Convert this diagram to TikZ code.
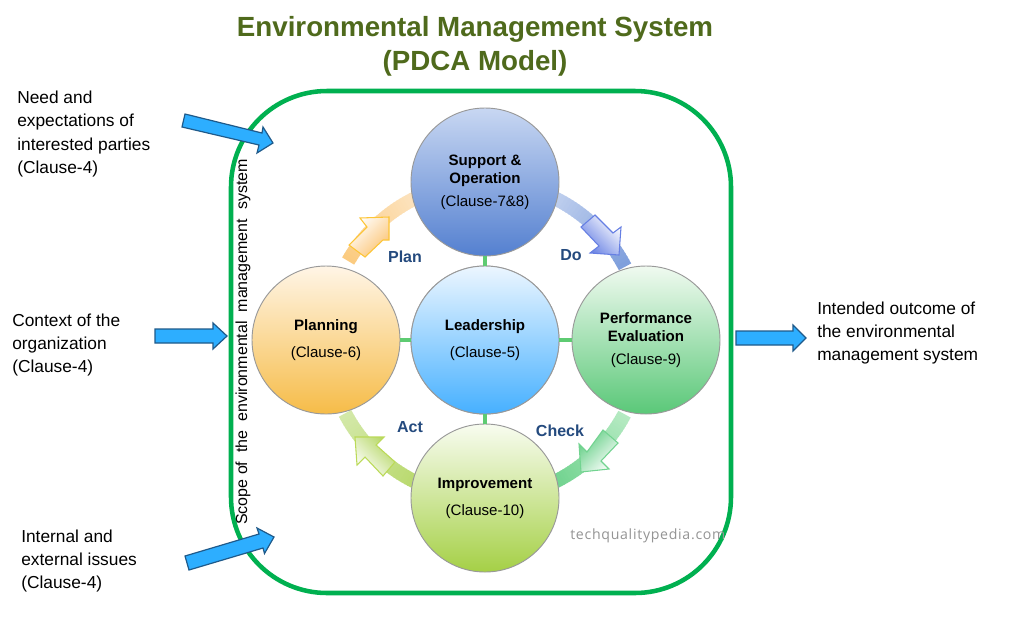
\documentclass[tikz,border=0pt]{standalone}
\usepackage{fontspec}
\setmainfont{Liberation Sans}
\newfontfamily\wmfont{Open Sans}
\usetikzlibrary{calc}
\definecolor{titleolive}{HTML}{4F6A1C}
\definecolor{framegreen}{HTML}{00B050}
\definecolor{arrowblue}{HTML}{2DAEFF}
\definecolor{arrowedge}{HTML}{1F5A8A}
\definecolor{pdcablue}{HTML}{244A7E}
\definecolor{linkgreen}{HTML}{5ECB72}
\definecolor{planA}{HTML}{FBCB80}\definecolor{planB}{HTML}{FDEEDC}
\definecolor{doA}{HTML}{DCE5F6}\definecolor{doB}{HTML}{7F9FDC}
\definecolor{chkA}{HTML}{B5EAC2}\definecolor{chkB}{HTML}{62CE84}
\definecolor{actA}{HTML}{B4D662}\definecolor{actB}{HTML}{D3E8A8}
\tikzset{
  disc/.style={circle,draw=black!40,line width=0.7pt,minimum size=111pt,inner sep=0pt,align=center,
     font=\fontsize{11.3}{13.3}\selectfont},
  sidetext/.style={anchor=west,align=left,inner sep=0pt,font=\fontsize{13}{17.5}\selectfont},
  pdca/.style={text=pdcablue,inner sep=0pt,font=\fontsize{12}{14}\selectfont\bfseries},
  bluearrow/.style={fill=arrowblue,draw=arrowedge,line width=0.9pt,line join=miter},
  link/.style={draw=linkgreen,line width=2.4pt},
}
\newcommand{\ringarc}[4]{% from angle, to angle, colour A, colour B
  \foreach \i in {0,...,39}{
    \pgfmathsetmacro{\aa}{#1+(#2-#1)*\i/40}
    \pgfmathsetmacro{\ab}{#1+(#2-#1)*(\i+1.3)/40}
    \pgfmathsetmacro{\pc}{100-\i*100/39}
    \draw[line width=10.5pt,draw=#3!\pc!#4] ({485+158*cos(\aa)},{340-158*sin(\aa)}) -- ({485+158*cos(\ab)},{340-158*sin(\ab)});
  }}
\begin{document}
\begin{tikzpicture}[x=0.75pt,y=-0.75pt]
\useasboundingbox (0,0) rectangle (1024,626);
\fill[white] (0,0) rectangle (1024,626);
% title
\node[text=titleolive,align=center,inner sep=0pt,font=\fontsize{20.8}{25.5}\selectfont\bfseries] (title) at (475,46) {Environmental Management System\\(PDCA Model)};
% frame
\draw[framegreen,line width=3.4pt,rounded corners=72pt] (231,91) rectangle (731,593);
% ring
\ringarc{150}{100}{planA}{planB}
\ringarc{80}{28}{doA}{doB}
\ringarc{-28}{-72}{chkA}{chkB}
\ringarc{-108}{-152}{actA}{actB}
% pdca arrows
\draw[draw=planA!60!orange!70!yellow,line width=0.8pt,left color=white,right color=planA!90!orange,shading angle=45]
  (349,245)--(365,257)--(383,240)--(389,240)--(389,217)--(360,218)--(367,227)--cycle;
\draw[draw=doB!80!blue,line width=0.8pt,left color=white,right color=doB!80!blue,shading angle=-45]
  (581,227)--(595,215)--(613,233)--(621,227)--(619,255)--(590,253)--(599,246)--cycle;
\draw[draw=chkB!90!white,line width=0.8pt,left color=white,right color=chkB,shading angle=-135]
  (603,430)--(618,443)--(601,461)--(609,469)--(581,472)--(579,444)--(587,452)--cycle;
\draw[draw=actA!90!yellow,line width=0.8pt,left color=white,right color=actA,shading angle=135]
  (395,462)--(383,476)--(365,457)--(357,465)--(355,437)--(384,437)--(376,445)--cycle;
% discs
\node[disc,top color=white!70!blue!20!white,bottom color=white] (dummy) at (485,340) {};
\node[disc,top color=blue!4!white,top color={rgb,255:red,236;green,246;blue,255},bottom color={rgb,255:red,70;green,176;blue,255}] (lead) at (485,340) {\textbf{Leadership}\\[7pt](Clause-5)};
\node[disc,top color={rgb,255:red,200;green,215;blue,242},bottom color={rgb,255:red,84;green,128;blue,208}] (supp) at (485,182) {\textbf{Support \&}\\\textbf{Operation}\\[4pt](Clause-7\&8)};
\node[disc,top color={rgb,255:red,255;green,245;blue,230},bottom color={rgb,255:red,246;green,188;blue,72}] (plan) at (326,340) {\textbf{Planning}\\[7pt](Clause-6)};
\node[disc,top color={rgb,255:red,240;green,250;blue,240},bottom color={rgb,255:red,90;green,200;blue,120}] (perf) at (646,340) {\textbf{Performance}\\\textbf{Evaluation}\\[4pt](Clause-9)};
\node[disc,top color={rgb,255:red,248;green,252;blue,240},bottom color={rgb,255:red,165;green,208;blue,70}] (impr) at (485,498) {\textbf{Improvement}\\[7pt](Clause-10)};
% links
\draw[link] (lead) -- (supp);
\draw[link] (lead) -- (plan);
\draw[link] (lead) -- (perf);
\draw[link] (lead) -- (impr);
% pdca labels
\node[pdca] (lplan) at (405,257) {Plan};
\node[pdca] (ldo) at (571,255) {Do};
\node[pdca] (lcheck) at (560,431) {Check};
\node[pdca] (lact) at (410,427) {Act};
% scope
\node[rotate=90,inner sep=0pt,font=\fontsize{12}{14}\selectfont] (scope) at (243,342) {Scope of\ \ the\ \ environmental\ \ management\ \ system};
% blue arrows
\draw[bluearrow] (185,114)--(262,133)--(263,127)--(273,143)--(257,153)--(259,145)--(182,127)--cycle;
\draw[bluearrow] (155,329)--(213,329)--(213,323)--(227,336)--(213,349)--(213,343)--(155,343)--cycle;
\draw[bluearrow] (736,331)--(793,331)--(793,325)--(806,338)--(793,351)--(793,345)--(736,345)--cycle;
\draw[bluearrow] (185,556)--(259,534)--(257,528)--(274,537)--(264.5,553.5)--(263,548)--(189,570)--cycle;
% side text
\node[sidetext] (need) at (17,134) {Need and\\expectations of\\interested parties\\(Clause-4)};
\node[sidetext] (ctx) at (12,345) {Context of the\\organization\\(Clause-4)};
\node[sidetext] (iss) at (21,561) {Internal and\\external issues\\(Clause-4)};
\node[sidetext] (out) at (817,333) {Intended outcome of\\the environmental\\management system};
\node[anchor=west,inner sep=0pt,text=black!42,font=\fontsize{10.6}{12}\selectfont\wmfont\addfontfeature{LetterSpace=5}] (wm) at (570,536) {techqualitypedia.com};
\end{tikzpicture}
\end{document}
